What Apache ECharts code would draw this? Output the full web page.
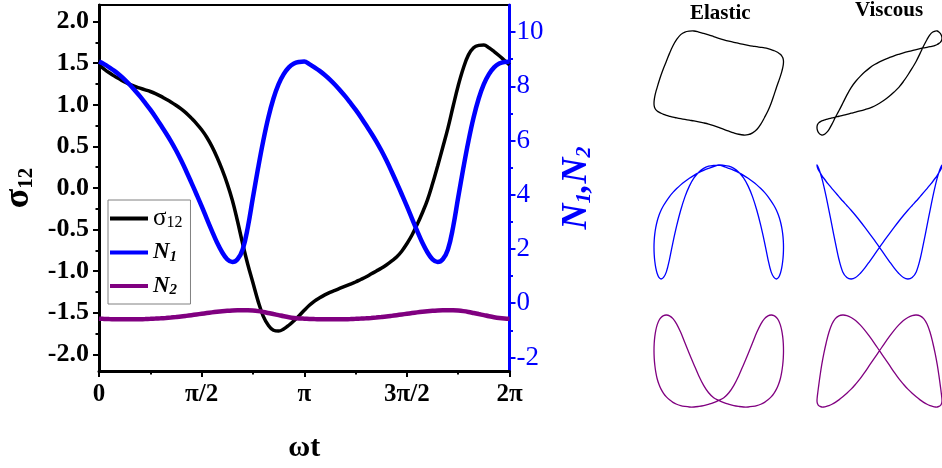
<!DOCTYPE html>
<html>
<head>
<meta charset="utf-8">
<script src="https://cdn.jsdelivr.net/npm/echarts@6/dist/echarts.min.js"></script>
<style>
html,body{margin:0;padding:0;background:#fff;}
#chart{width:942px;height:468px;}
</style>
</head>
<body>
<div id="chart"></div>
<script>
// phase ωt in units of π
const phase = [0,0.025,0.05,0.075,0.1,0.125,0.15,0.175,0.2,0.225,0.25,0.275,0.3,0.325,0.35,0.375,0.4,0.425,0.45,0.475,
               0.5,0.525,0.55,0.575,0.6,0.625,0.65,0.675,0.7,0.725,0.75,0.775,0.8,0.825,0.85,0.875,0.9,0.925,0.95,0.975,
               1,1.025,1.05,1.075,1.1,1.125,1.15,1.175,1.2,1.225,1.25,1.275,1.3,1.325,1.35,1.375,1.4,1.425,1.45,1.475,
               1.5,1.525,1.55,1.575,1.6,1.625,1.65,1.675,1.7,1.725,1.75,1.775,1.8,1.825,1.85,1.875,1.9,1.925,1.95,1.975,2];
const sigma12 = [1.48,1.43,1.385,1.345,1.31,1.275,1.245,1.22,1.20,1.18,1.16,1.135,1.105,1.07,1.035,0.995,0.95,0.90,0.84,0.775,
                 0.70,0.61,0.50,0.37,0.22,0.05,-0.15,-0.40,-0.67,-0.92,-1.14,-1.36,-1.54,-1.65,-1.71,-1.72,-1.695,-1.65,-1.595,-1.535,
                 -1.47,-1.41,-1.36,-1.32,-1.285,-1.255,-1.23,-1.205,-1.18,-1.155,-1.13,-1.10,-1.07,-1.035,-1.00,-0.965,-0.925,-0.88,-0.83,-0.76,
                 -0.67,-0.565,-0.44,-0.30,-0.145,0.05,0.265,0.49,0.72,0.98,1.23,1.44,1.60,1.685,1.715,1.72,1.685,1.64,1.59,1.535,1.48];
const n1 = [8.91,8.82,8.70,8.57,8.42,8.25,8.06,7.85,7.63,7.39,7.14,6.87,6.58,6.29,5.98,5.64,5.27,4.87,4.45,4.02,
            3.58,3.12,2.67,2.24,1.88,1.62,1.52,1.62,1.98,2.80,3.90,4.98,5.98,6.85,7.55,8.08,8.45,8.70,8.84,8.90,
            8.92,8.82,8.70,8.57,8.42,8.25,8.06,7.85,7.63,7.39,7.14,6.87,6.58,6.29,5.98,5.64,5.27,4.87,4.45,4.02,
            3.58,3.12,2.67,2.24,1.88,1.62,1.52,1.62,1.98,2.80,3.90,4.98,5.98,6.85,7.55,8.08,8.45,8.70,8.84,8.90,8.91];
const n2 = [-0.570,-0.578,-0.584,-0.589,-0.592,-0.594,-0.594,-0.592,-0.589,-0.584,-0.577,-0.568,-0.557,-0.544,-0.529,-0.511,-0.491,-0.467,-0.441,-0.415,
            -0.389,-0.363,-0.338,-0.315,-0.295,-0.279,-0.268,-0.261,-0.259,-0.262,-0.272,-0.292,-0.322,-0.360,-0.400,-0.440,-0.480,-0.515,-0.542,-0.560,
            -0.570,-0.578,-0.584,-0.589,-0.592,-0.594,-0.594,-0.592,-0.589,-0.584,-0.577,-0.568,-0.557,-0.544,-0.529,-0.511,-0.491,-0.467,-0.441,-0.415,
            -0.389,-0.363,-0.338,-0.315,-0.295,-0.279,-0.268,-0.261,-0.259,-0.262,-0.272,-0.292,-0.322,-0.360,-0.400,-0.440,-0.480,-0.515,-0.542,-0.560,-0.570];

const sigmaTicks = [-2,-1.5,-1,-0.5,0,0.5,1,1.5,2];
const sigmaMinor = [-1.75,-1.25,-0.75,-0.25,0.25,0.75,1.25,1.75];
const nTicks = [-2,0,2,4,6,8,10];
const nMinor = [-1,1,3,5,7,9];
const phaseTicks = [0,0.5,1,1.5,2];
const phaseMinor = [0.25,0.75,1.25,1.75];
const phaseLabels = ['0','π/2','π','3π/2','2π'];

const FONT = "'Liberation Serif','Times New Roman',serif";
const BLACK = '#000000', BLUE = '#0000ff', PURPLE = '#800080';

const chart = echarts.init(document.getElementById('chart'), null, {renderer:'canvas'});

function pairs(xs, ys){ return xs.map((x,i)=>[x, ys[i]]); }
// strain ~ sin(ωt), strain rate ~ cos(ωt)
const strain = phase.map(u => Math.sin(Math.PI*u));
const rate = phase.map(u => Math.cos(Math.PI*u));

const panels = [
  {col:'e', top:31, height:104, ys:sigma12, color:BLACK},
  {col:'v', top:31, height:104, ys:sigma12, color:BLACK},
  {col:'e', top:165, height:114, ys:n1, color:BLUE},
  {col:'v', top:165, height:114, ys:n1, color:BLUE},
  {col:'e', top:315, height:92, ys:n2, color:PURPLE},
  {col:'v', top:315, height:92, ys:n2, color:PURPLE}
];

const grids = [{left:99, top:5, width:410.5, height:367.7, show:true, borderColor:'#000', borderWidth:2, backgroundColor:'transparent'}];
const xAxes = [
  {type:'value', gridIndex:0, position:'bottom', min:0, max:2,
   axisLine:{onZero:false, lineStyle:{color:BLACK, width:3}},
   axisTick:{customValues:phaseTicks, length:6, lineStyle:{color:BLACK, width:2}},
   axisLabel:{customValues:phaseTicks, formatter:v=>phaseLabels[phaseTicks.indexOf(v)], margin:11,
              fontFamily:FONT, fontSize:25, fontWeight:'bold', color:BLACK},
   splitLine:{show:false},
   name:'ωt', nameLocation:'middle', nameGap:62,
   nameTextStyle:{fontFamily:FONT, fontSize:30, fontWeight:'bold', color:BLACK}},
  {type:'value', gridIndex:0, position:'bottom', min:0, max:2,
   axisLine:{show:false, onZero:false}, axisLabel:{show:false}, splitLine:{show:false},
   axisTick:{customValues:phaseMinor, length:3.5, lineStyle:{color:BLACK, width:2}}}
];
const yAxes = [
  {type:'value', gridIndex:0, position:'left', min:-2.2, max:2.2,
   axisLine:{show:true, onZero:false, lineStyle:{color:BLACK, width:3}},
   axisTick:{show:true, customValues:sigmaTicks, length:6, lineStyle:{color:BLACK, width:2}},
   axisLabel:{customValues:sigmaTicks, formatter:v=>v.toFixed(1), margin:10,
              fontFamily:FONT, fontSize:26, fontWeight:'bold', color:BLACK},
   splitLine:{show:false},
   name:'{a|σ}{b|12}', nameLocation:'middle', nameGap:62,
   nameTextStyle:{fontFamily:FONT, color:BLACK, rich:{
     a:{fontFamily:FONT, fontSize:36, fontWeight:'bold', color:BLACK, lineHeight:36},
     b:{fontFamily:FONT, fontSize:21, fontWeight:'bold', color:BLACK, verticalAlign:'bottom', lineHeight:36, padding:[14,0,0,0]}}}},
  {type:'value', gridIndex:0, position:'right', min:-2.5, max:11,
   axisLine:{show:true, onZero:false, lineStyle:{color:BLUE, width:3}},
   axisTick:{show:true, customValues:nTicks, length:6, lineStyle:{color:BLUE, width:2}},
   axisLabel:{customValues:nTicks, margin:7, fontFamily:FONT, fontSize:27, color:BLUE},
   splitLine:{show:false},
   name:'{a|N}{b|1}{a|,N}{b|2}', nameLocation:'middle', nameGap:48,
   nameTextStyle:{fontFamily:FONT, color:BLUE, rich:{
     a:{fontFamily:FONT, fontSize:36, fontWeight:'bold', fontStyle:'italic', color:BLUE, lineHeight:38},
     b:{fontFamily:FONT, fontSize:22, fontWeight:'bold', fontStyle:'italic', color:BLUE, verticalAlign:'bottom', lineHeight:38, padding:[14,0,0,0]}}}},
  {type:'value', gridIndex:0, position:'left', min:-2.2, max:2.2,
   axisLine:{show:false, onZero:false}, axisLabel:{show:false}, splitLine:{show:false},
   axisTick:{show:true, customValues:sigmaMinor, length:3.5, lineStyle:{color:BLACK, width:2}}},
  {type:'value', gridIndex:0, position:'right', min:-2.5, max:11,
   axisLine:{show:false, onZero:false}, axisLabel:{show:false}, splitLine:{show:false},
   axisTick:{show:true, customValues:nMinor, length:3.5, lineStyle:{color:BLUE, width:2}}}
];

const series = [
  {name:'σ12', type:'line', xAxisIndex:0, yAxisIndex:0, data:pairs(phase, sigma12), smooth:0.4,
   symbol:'none', showSymbol:false, color:BLACK, lineStyle:{color:BLACK, width:3.5}, z:3},
  {name:'N1', type:'line', xAxisIndex:0, yAxisIndex:1, data:pairs(phase, n1), smooth:0.4,
   symbol:'none', showSymbol:false, color:BLUE, lineStyle:{color:BLUE, width:4.5}, z:4},
  {name:'N2', type:'line', xAxisIndex:0, yAxisIndex:1, data:pairs(phase, n2), smooth:0.4,
   symbol:'none', showSymbol:false, color:PURPLE, lineStyle:{color:PURPLE, width:4.5}, z:4}
];

panels.forEach((p, k) => {
  const gi = k + 1;
  const xs = p.col === 'e' ? strain : rate;
  const pts = pairs(xs, p.ys);
  grids.push({left: p.col === 'e' ? 654 : 817, top:p.top, width:129.5, height:p.height});
  xAxes.push({type:'value', gridIndex:gi, min:-1, max:1, show:false, axisLine:{onZero:false}});
  yAxes.push({type:'value', gridIndex:gi, min:v=>v.min, max:v=>v.max, show:false, scale:true, axisLine:{onZero:false}});
  series.push({name:'lissajous'+k, type:'custom', xAxisIndex:gi+1, yAxisIndex:gi+3,
    data:pts, silent:true, clip:false,
    renderItem:(params, api) => {
      if (params.dataIndex !== 0) return null;
      // closed loop: last point repeats the first
      const poly = pts.slice(0, -1).map(d => api.coord(d));
      return {type:'polygon', shape:{points:poly, smooth:0.35},
              style:{fill:'none', stroke:p.color, lineWidth:1.3}, silent:true};
    }});
});

const legendText = {'σ12':'{s|σ}{sb|12}', 'N1':'{n|N}{nb|1}', 'N2':'{n|N}{nb|2}'};

chart.setOption({
  animation:false,
  backgroundColor:'#ffffff',
  title:[
    {text:'Elastic', left:690, top:3, padding:0, textStyle:{fontFamily:FONT, fontSize:21, fontWeight:'bold', color:BLACK}},
    {text:'Viscous', left:855, top:0, padding:0, textStyle:{fontFamily:FONT, fontSize:21, fontWeight:'bold', color:BLACK}}
  ],
  legend:{
    data:['σ12','N1','N2'], orient:'vertical', left:108, top:200,
    padding:[6,8,6,2], itemGap:9.5, itemWidth:38, itemHeight:4, icon:'rect',
    borderColor:'#808080', borderWidth:1, backgroundColor:'#fff',
    formatter:name=>legendText[name],
    textStyle:{fontFamily:FONT, color:BLACK, lineHeight:24, rich:{
      s:{fontFamily:FONT, fontSize:25, color:BLACK, lineHeight:24},
      sb:{fontFamily:FONT, fontSize:16, color:BLACK, verticalAlign:'bottom', lineHeight:24, padding:[8,0,0,0]},
      n:{fontFamily:FONT, fontSize:23, fontStyle:'italic', fontWeight:'bold', color:BLACK, lineHeight:24},
      nb:{fontFamily:FONT, fontSize:15, fontStyle:'italic', fontWeight:'bold', color:BLACK, verticalAlign:'bottom', lineHeight:24, padding:[8,0,0,0]}
    }}
  },
  grid:grids,
  xAxis:xAxes,
  yAxis:yAxes,
  series:series
});
</script>
</body>
</html>
